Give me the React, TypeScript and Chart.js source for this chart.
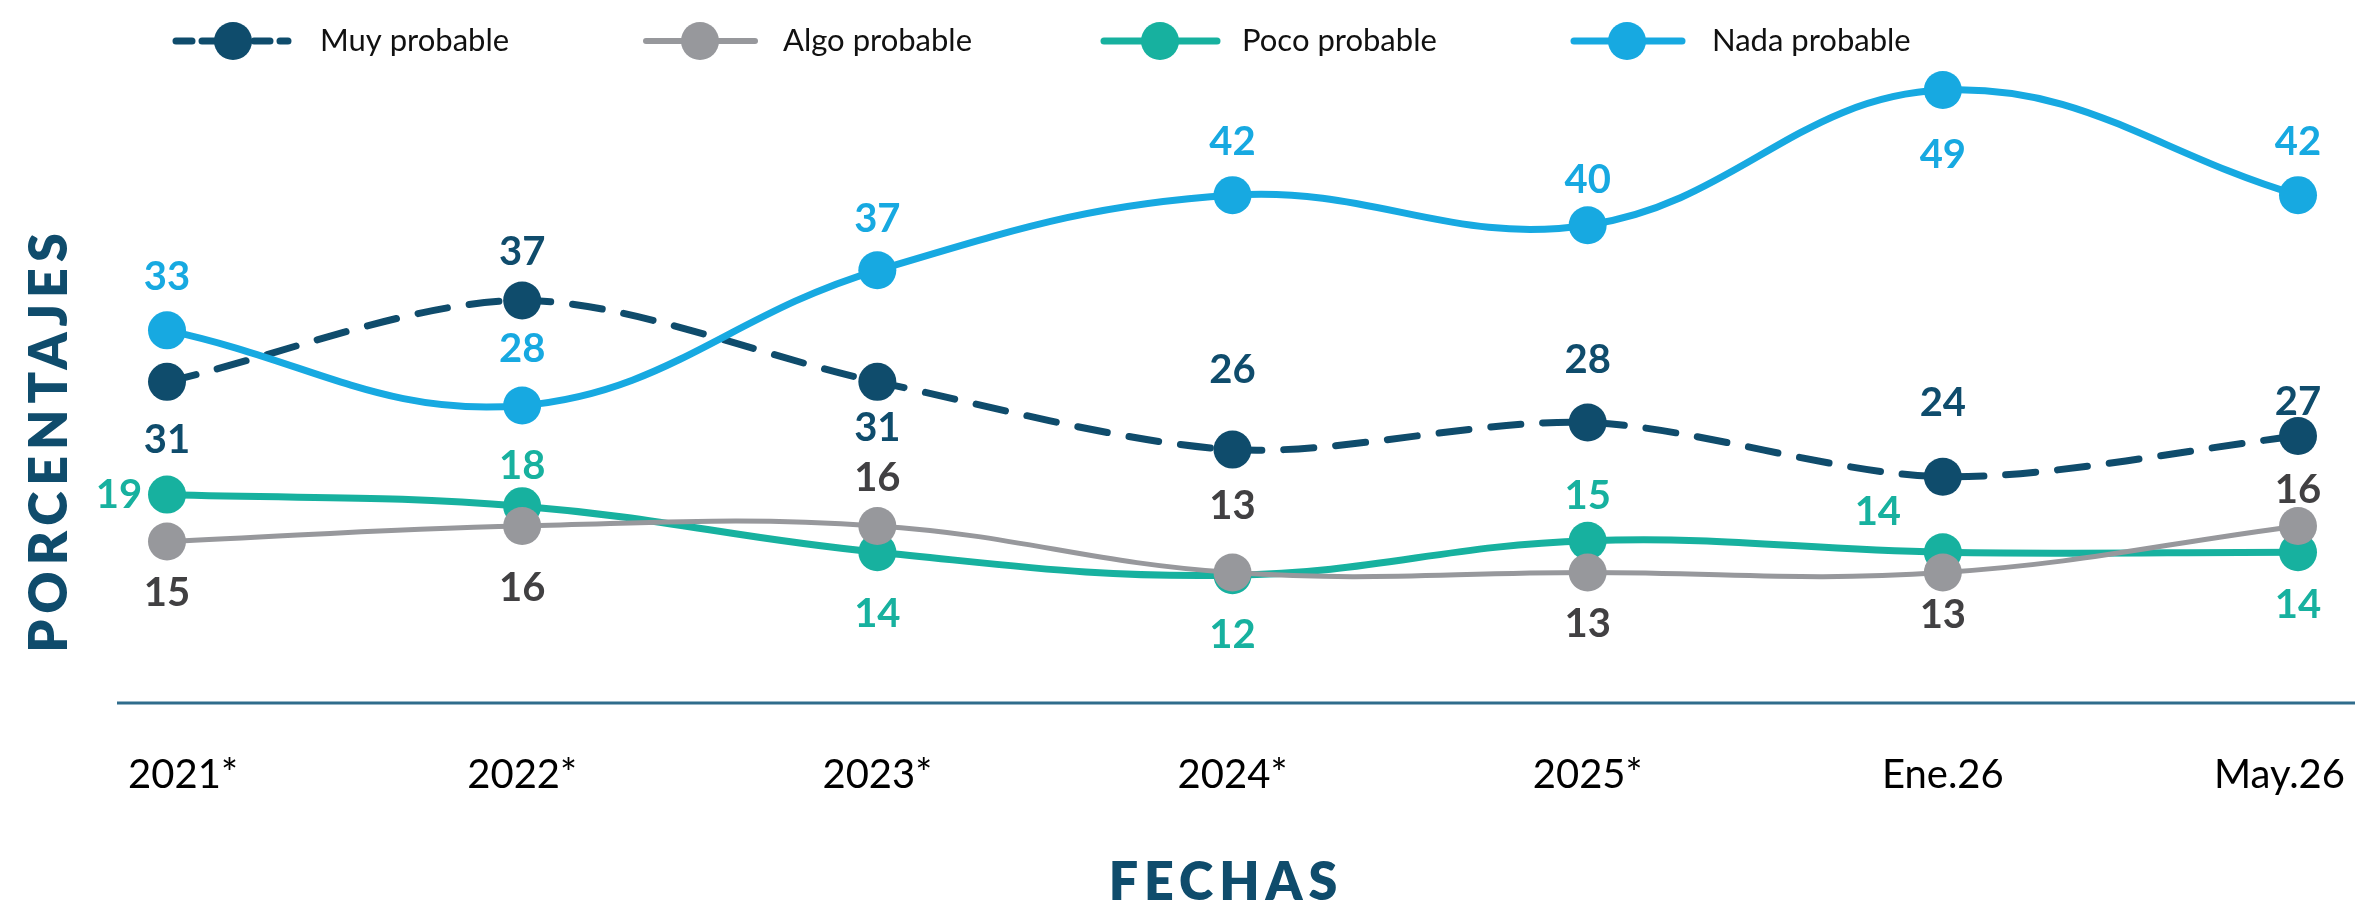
import React, { useEffect, useRef } from "react";
import { Chart, registerables } from "chart.js";

Chart.register(...registerables);

// ---------- data ----------
const categories = ["2021*", "2022*", "2023*", "2024*", "2025*", "Ene.26", "May.26"];
const seriesNames = ["Muy probable", "Algo probable", "Poco probable", "Nada probable"];
const muyProbable = [31, 37, 31, 26, 28, 24, 27];
const algoProbable = [15, 16, 16, 13, 13, 13, 16];
const pocoProbable = [19, 18, 14, 12, 15, 14, 14];
const nadaProbable = [33, 28, 37, 42, 40, 49, 42];
const yTitle = "PORCENTAJES";
const xTitle = "FECHAS";

// ---------- styles ----------
const C_MUY = "#0f4c6c";
const C_ALGO = "#97989c";
const C_POCO = "#17b19f";
const C_NADA = "#17a9e1";
const LBL_MUY = "#0f4c6c";
const LBL_ALGO = "#414042";
const LBL_POCO = "#17b19f";
const LBL_NADA = "#17a9e1";
const FONT = "Lato";

// per-point label offsets [dx, dy] in px (placement only)
const offMuy = [[0, 58], [0, -48], [0, 46], [0, -80], [0, -62], [0, -74], [0, -34]];
const offAlgo = [[0, 52], [0, 62], [0, -48], [0, -66], [0, 52], [0, 43], [0, -36]];
const offPoco = [[-48, 0], [0, -40], [0, 62], [0, 60], [0, -45], [-65, -40], [0, 53]];
const offNada = [[0, -53], [0, -56], [0, -51], [0, -53], [0, -45], [0, 65], [0, -53]];

// legend layout
const legendItems = [
  { x1: 176, x2: 288, cx: 233, tx: 320, color: C_MUY, dash: [16, 10], width: 7 },
  { x1: 646, x2: 755, cx: 700, tx: 783, color: C_ALGO, dash: [], width: 6 },
  { x1: 1104, x2: 1217, cx: 1160, tx: 1242, color: C_POCO, dash: [], width: 7 },
  { x1: 1574, x2: 1682, cx: 1627, tx: 1712, color: C_NADA, dash: [], width: 7 },
];

const decorPlugin = {
  id: "decor",
  beforeDraw(chart: any) {
    // keep first/last tick labels inside the canvas like the reference
    const xs = chart.scales.x;
    const items = xs.getLabelItems(chart.chartArea);
    if (items && items.length) {
      const first = items[0];
      first.options.translation = [first.options.translation[0] + 16, first.options.translation[1]];
      const last = items[items.length - 1];
      last.options.textAlign = "right";
      last.options.translation = [chart.width - 10, last.options.translation[1]];
    }
  },
  beforeDatasetsDraw(chart: any) {
    const ctx = chart.ctx;
    const { bottom } = chart.chartArea;
    ctx.save();
    ctx.strokeStyle = "#2f6c8c";
    ctx.lineWidth = 3;
    ctx.beginPath();
    ctx.moveTo(117, bottom);
    ctx.lineTo(chart.width, bottom);
    ctx.stroke();
    ctx.restore();
  },
  afterDatasetsDraw(chart: any) {
    const ctx = chart.ctx;
    const offsets = [offMuy, offAlgo, offPoco, offNada];
    const colors = [LBL_MUY, LBL_ALGO, LBL_POCO, LBL_NADA];
    ctx.save();
    ctx.font = `700 40px ${FONT}`;
    ctx.textAlign = "center";
    ctx.textBaseline = "middle";
    chart.data.datasets.forEach((ds: any, i: number) => {
      const meta = chart.getDatasetMeta(i);
      ctx.fillStyle = colors[i];
      meta.data.forEach((pt: any, j: number) => {
        const [dx, dy] = offsets[i][j];
        ctx.fillText(String(ds.data[j]), pt.x + dx, pt.y + dy);
      });
    });
    ctx.restore();
  },
  afterDraw(chart: any) {
    const ctx = chart.ctx;
    ctx.save();
    // legend
    const ly = 41;
    legendItems.forEach((it, i) => {
      ctx.strokeStyle = it.color;
      ctx.lineWidth = it.width;
      ctx.lineCap = "round";
      ctx.setLineDash(it.dash);
      ctx.beginPath();
      ctx.moveTo(it.x1, ly);
      ctx.lineTo(it.x2, ly);
      ctx.stroke();
      ctx.setLineDash([]);
      ctx.fillStyle = it.color;
      ctx.beginPath();
      ctx.arc(it.cx, ly, 19, 0, Math.PI * 2);
      ctx.fill();
      ctx.fillStyle = "#111111";
      ctx.font = `400 31px ${FONT}`;
      ctx.textAlign = "left";
      ctx.textBaseline = "middle";
      ctx.fillText(seriesNames[i], it.tx, ly);
    });
    // axis titles
    const spacing = 6;
    ctx.fillStyle = "#0f4c6c";
    ctx.font = `800 52px ${FONT}`;
    (ctx as any).letterSpacing = `${spacing}px`;
    ctx.textAlign = "left";
    ctx.textBaseline = "middle";
    const wx = ctx.measureText(xTitle).width - spacing;
    ctx.fillText(xTitle, 1223 - wx / 2, 883);
    const wy = ctx.measureText(yTitle).width - spacing;
    ctx.translate(50, 443);
    ctx.rotate(-Math.PI / 2);
    ctx.fillText(yTitle, -wy / 2, 0);
    ctx.restore();
  },
};

function hiddenAxis(min: number, max: number) {
  return { type: "linear", display: false, min, max };
}

export default function App() {
  const ref = useRef<HTMLCanvasElement | null>(null);

  useEffect(() => {
    document.body.style.margin = "0";
    const canvas = ref.current;
    if (!canvas) return;
    const common = {
      pointRadius: 19,
      pointHoverRadius: 19,
      pointBorderWidth: 0,
      tension: 0.4,
      clip: false,
      borderCapStyle: "round",
    };
    const chart = new Chart(canvas, {
      type: "line",
      data: {
        labels: categories,
        datasets: [
          {
            ...common,
            label: seriesNames[0],
            data: muyProbable,
            yAxisID: "yMuy",
            borderColor: C_MUY,
            backgroundColor: C_MUY,
            pointBackgroundColor: C_MUY,
            borderWidth: 7,
            borderDash: [30, 22],
            tension: 0.3,
            order: 1,
          },
          {
            ...common,
            label: seriesNames[1],
            data: algoProbable,
            yAxisID: "yAlgo",
            borderColor: C_ALGO,
            backgroundColor: C_ALGO,
            pointBackgroundColor: C_ALGO,
            borderWidth: 5,
            order: 2,
          },
          {
            ...common,
            label: seriesNames[2],
            data: pocoProbable,
            yAxisID: "yPoco",
            borderColor: C_POCO,
            backgroundColor: C_POCO,
            pointBackgroundColor: C_POCO,
            borderWidth: 7,
            order: 3,
          },
          {
            ...common,
            label: seriesNames[3],
            data: nadaProbable,
            yAxisID: "yNada",
            borderColor: C_NADA,
            backgroundColor: C_NADA,
            pointBackgroundColor: C_NADA,
            borderWidth: 7,
            order: 0,
          },
        ],
      },
      options: {
        responsive: false,
        animation: false,
        devicePixelRatio: 1,
        events: [],
        layout: { padding: { top: 60, left: 167, right: 57, bottom: 0 } },
        plugins: { legend: { display: false }, tooltip: { enabled: false }, title: { display: false } },
        scales: {
          x: {
            type: "category",
            offset: false,
            grid: { display: false, drawTicks: false },
            border: { display: false },
            ticks: {
              color: "#000000",
              font: { family: FONT, size: 40, weight: "400" },
              padding: 48,
              maxRotation: 0,
              autoSkip: false,
            },
            afterFit: (scale: any) => {
              scale.height = 202;
              scale.paddingLeft = 0;
              scale.paddingRight = 0;
            },
          },
          yNada: hiddenAxis(8.19, 51.0),
          yMuy: hiddenAxis(7.3, 54.75),
          yPoco: hiddenAxis(0.91, 56.73),
          yAlgo: hiddenAxis(4.6, 46.0),
        } as any,
      },
      plugins: [decorPlugin],
    } as any);
    return () => chart.destroy();
  }, []);

  return (
    <div style={{ position: "fixed", left: 0, top: 0, width: 2355, height: 905, background: "#ffffff" }}>
      <canvas ref={ref} width={2355} height={905} style={{ display: "block" }} />
    </div>
  );
}
